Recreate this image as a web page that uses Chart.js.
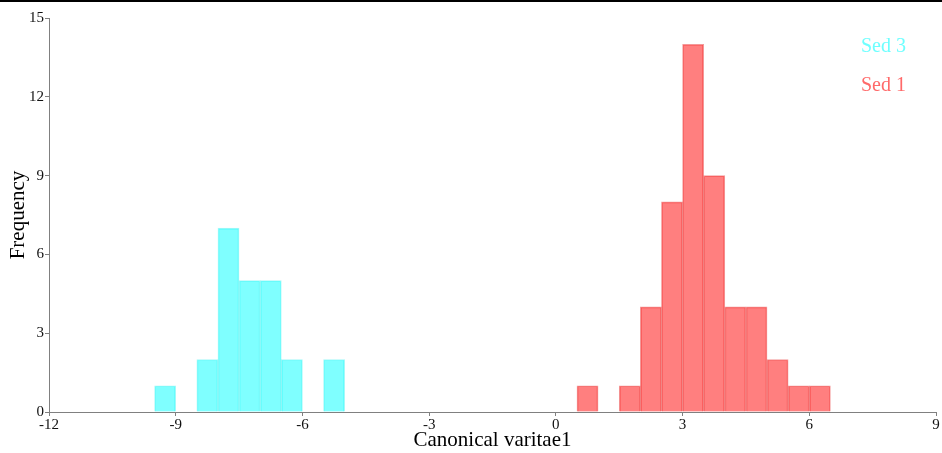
<!DOCTYPE html>
<html>
<head>
<meta charset="utf-8">
<script src="https://cdn.jsdelivr.net/npm/chart.js@4.4.0/dist/chart.umd.min.js"></script>
<style>
body{margin:0;background:#fff;}
#wrap{position:relative;width:942px;height:453px;}
#topline{position:absolute;left:0;top:0;width:942px;height:2px;background:#000;}
</style>
</head>
<body>
<div id="wrap">
<canvas id="histChart" width="942" height="453"></canvas>
<div id="topline"></div>
</div>
<script>
// histogram bins (left edge) and counts
const binWidth=0.5;
const sed3Bins=[-9.5,-9,-8.5,-8,-7.5,-7,-6.5,-6,-5.5];
const sed3Counts=[1,0,2,7,5,5,2,0,2];
const sed1Bins=[0.5,1,1.5,2,2.5,3,3.5,4,4.5,5,5.5,6];
const sed1Counts=[1,0,1,4,8,14,9,4,4,2,1,1];
const xRange=[-12,9];
const yRange=[0,15];
const tickStep=3;

function toBars(bins,counts){
    return bins.map((b,i)=>({x:b+binWidth/2,y:counts[i]===0?null:counts[i]}));
}

const serif='"Liberation Serif", "Times New Roman", serif';

// legend drawn as plain coloured text in the top right corner
const textLegend={
    id:'textLegend',
    afterDatasetsDraw(chart){
        const ctx=chart.ctx;
        const area=chart.chartArea;
        ctx.save();
        ctx.font='20px '+serif;
        ctx.textAlign='right';
        ctx.textBaseline='middle';
        chart.data.datasets.forEach((ds,i)=>{
            ctx.fillStyle=ds.legendColor;
            ctx.fillText(ds.label,area.right-30,area.top+29+i*39);
        });
        ctx.restore();
    }
};

let histChart=new Chart("histChart",{
    type:"bar",
    data:{
        datasets:[{
            label:"Sed 3",
            data:toBars(sed3Bins,sed3Counts),
            backgroundColor:"rgba(0,255,255,0.5)",
            borderColor:"rgba(0,235,235,0.35)",
            legendColor:"rgb(110,255,255)",
            borderWidth:1,
            barPercentage:1,
            categoryPercentage:1,
            grouped:false
        },{
            label:"Sed 1",
            data:toBars(sed1Bins,sed1Counts),
            backgroundColor:"rgba(255,0,0,0.5)",
            borderColor:"rgba(225,0,0,0.4)",
            legendColor:"rgb(255,105,105)",
            borderWidth:1,
            barPercentage:1,
            categoryPercentage:1,
            grouped:false
        }]
    },
    options:{
        responsive:false,
        animation:false,
        layout:{padding:{top:18,right:6,left:0,bottom:0}},
        plugins:{
            legend:{display:false},
            tooltip:{enabled:false}
        },
        scales:{
            x:{
                type:"linear",
                offset:false,
                min:xRange[0],
                max:xRange[1],
                ticks:{stepSize:tickStep,color:"#111",font:{family:serif,size:15},padding:0,maxRotation:0},
                grid:{offset:false,drawOnChartArea:false,tickLength:4,color:"#808080"},
                border:{color:"#808080"},
                title:{display:true,text:"Canonical varitae1",color:"#000",font:{family:serif,size:21},padding:{top:0,bottom:0}},
                afterFit(scale){scale.height=41;}
            },
            y:{
                min:yRange[0],
                max:yRange[1],
                ticks:{stepSize:tickStep,color:"#111",font:{family:serif,size:15},padding:1},
                grid:{drawOnChartArea:false,tickLength:4,color:"#808080"},
                border:{color:"#808080"},
                title:{display:true,text:"Frequency",color:"#000",font:{family:serif,size:21},padding:{top:6,bottom:0}},
                afterFit(scale){scale.width=49;}
            }
        }
    },
    plugins:[textLegend]
});
</script>
</body>
</html>
